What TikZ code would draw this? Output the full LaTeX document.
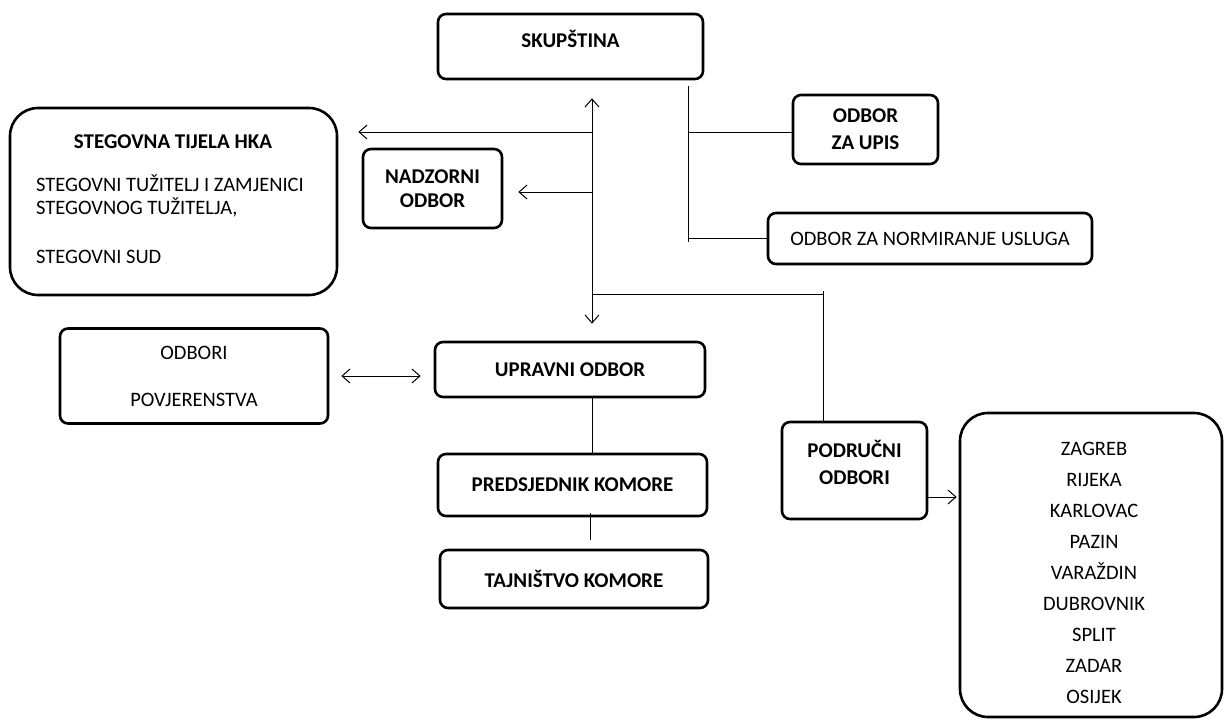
\documentclass[tikz,border=0pt]{standalone}
\usepackage{fontspec}
\setmainfont{Carlito}
\usetikzlibrary{arrows.meta}
\usetikzlibrary{calc}
\usetikzlibrary{positioning}

\tikzset{
  box/.style={draw=black, line width=2.6pt, rounded corners=8pt, inner sep=0pt, align=center,
    font=\fontsize{20.5}{24}\selectfont},
  bigbox/.style={box, rounded corners=28pt},
  hd/.style={font=\fontsize{21}{24}\selectfont\bfseries, inner sep=0pt},
  txt/.style={font=\fontsize{20.5}{24}\selectfont, inner sep=0pt},
  link/.style={black, line width=1pt},
  barb/.style={link, -{Straight Barb[length=8pt,width=14pt,line width=1pt]}},
  barbs/.style={link, {Straight Barb[length=8pt,width=14pt,line width=1pt]}-{Straight Barb[length=8pt,width=14pt,line width=1pt]}}
}

\begin{document}
\begin{tikzpicture}[x=1pt,y=-1pt]
            \useasboundingbox[fill=white] (0,0) rectangle (1226,720);

            \node[box, minimum width=265pt, minimum height=65pt] (skup) at (570.5,46.5) {};
            \node[hd] (skupt) at (570.5,39) {SKUPŠTINA};

            \node[bigbox, minimum width=327pt, minimum height=187pt] (steg) at (173.5,201.5) {};
            \node[hd] (stegt) at (173,142) {STEGOVNA TIJELA HKA};
            \node[txt, anchor=west] (stega) at (36,183) {STEGOVNI TUŽITELJ I ZAMJENICI};
            \node[txt, anchor=west] (stegb) at (36,207) {STEGOVNOG TUŽITELJA,};
            \node[txt, anchor=west] (stegc) at (36,257) {STEGOVNI SUD};

            \node[box, minimum width=139pt, minimum height=79pt, font=\fontsize{21}{24}\selectfont\bfseries] (nadz) at (432.5,188.5) {NADZORNI\\ODBOR};
            \node[box, minimum width=145pt, minimum height=69pt, font=\fontsize{21}{27}\selectfont\bfseries] (upis) at (865.5,129.5) {ODBOR\\ZA UPIS};
            \node[box, minimum width=324pt, minimum height=51pt] (norm) at (930,238.5) {ODBOR ZA NORMIRANJE USLUGA};

            \node[box, minimum width=268pt, minimum height=95pt, font=\fontsize{20.5}{47}\selectfont] (odbori) at (194,376) {ODBORI\\POVJERENSTVA};
            \node[box, minimum width=270pt, minimum height=55pt, font=\fontsize{21}{24}\selectfont\bfseries] (upravni) at (570,369.5) {UPRAVNI ODBOR};
            \node[box, minimum width=269pt, minimum height=62pt, font=\fontsize{21}{24}\selectfont\bfseries] (pred) at (572.5,485) {PREDSJEDNIK KOMORE};
            \node[box, minimum width=268pt, minimum height=58pt, font=\fontsize{21}{24}\selectfont\bfseries] (tajn) at (574,579) {TAJNIŠTVO KOMORE};

            \node[box, minimum width=145pt, minimum height=97pt] (podr) at (854.5,470.5) {};
            \node[hd, align=center, font=\fontsize{21}{27}\selectfont\bfseries] (podrt) at (854.5,462) {PODRUČNI\\ODBORI};

            \node[bigbox, minimum width=262pt, minimum height=304pt] (cities) at (1091,565) {};
            \node[txt, align=center, font=\fontsize{20.5}{31}\selectfont] (citiest) at (1094,573)
                {ZAGREB\\RIJEKA\\KARLOVAC\\PAZIN\\VARAŽDIN\\DUBROVNIK\\SPLIT\\ZADAR\\OSIJEK};

            \coordinate (trunk) at (592,0);
            \coordinate (branch) at (688,0);
            \coordinate (j1) at (592,132);
            \coordinate (j2) at (592,192);
            \coordinate (j3) at (592,294);
            \coordinate (j4) at (823,294);

            \draw[barbs, shorten <=18pt, shorten >=17pt] (skup.south -| trunk) -- (upravni.north -| trunk);
            \draw[barb, shorten >=20pt] (j1) -- (j1 -| steg.east);
            \draw[barb, shorten >=15pt] (j2) -- (j2 -| nadz.east);

            \draw[link, shorten <=6pt] (skup.south -| branch) -- (branch |- 0,242);
            \draw[link] (branch |- j1) -- (j1 -| upis.west);
            \draw[link] (branch |- norm.west) -- (norm.west);

            \draw[link] (j3) -- (j4) -- (j4 |- podr.north);
            \draw[link] ([yshift=3pt]j4) -- (j4);

            \draw[barbs, shorten <=12pt, shorten >=13pt] (odbori.east) -- (odbori.east -| upravni.west);
            \draw[link] (upravni.south -| trunk) -- (pred.north -| trunk);
            \draw[link] ([yshift=4pt]pred.south -| 590,0) -- ([yshift=9pt]tajn.north -| 590,0);
            \draw[barb, shorten >=2pt] ([yshift=-26.5pt]podr.east) -- ([yshift=-26.5pt]podr.east -| cities.west);
        \end{tikzpicture}
\end{document}
